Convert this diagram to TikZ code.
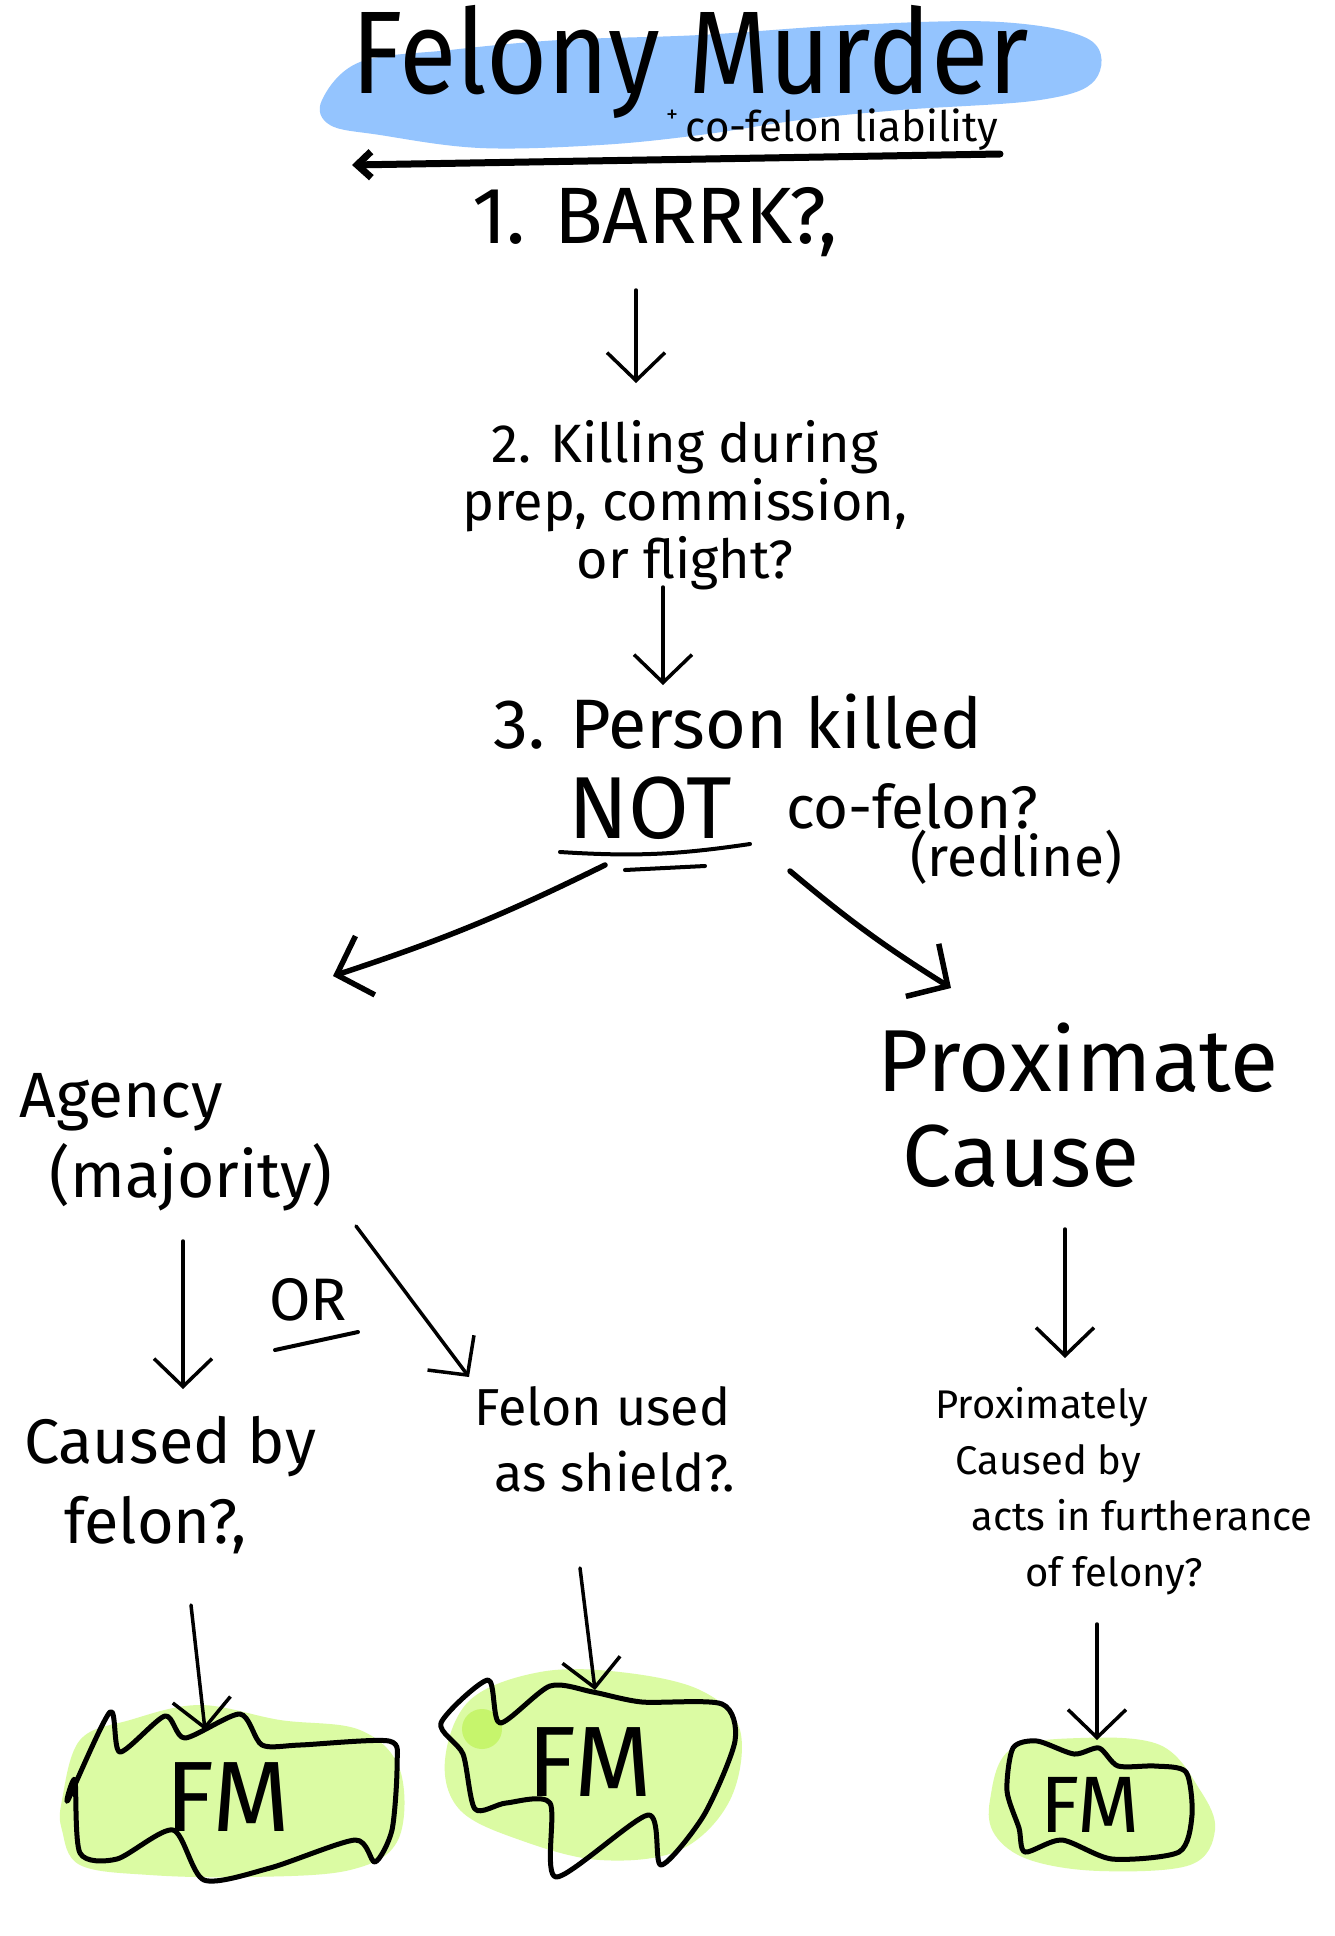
\documentclass[tikz,border=0pt]{standalone}
\usepackage{fontspec}
\setmainfont{Fira Sans}
\usetikzlibrary{arrows.meta,calc}
\definecolor{hlblue}{HTML}{94C4FE}
\definecolor{limefill}{HTML}{DBFBA3}
\definecolor{limedark}{HTML}{C6F56C}
\newcommand{\fsz}[2]{\fontsize{#1pt}{#2pt}\selectfont}
\tikzset{
  arr/.style={draw, line width=3.5pt, -{Straight Barb[length=28pt,width=58pt]}},
  thickarr/.style={draw, line width=5.5pt, -{Straight Barb[length=30pt,width=62pt]}},
  blobline/.style={draw, line width=5pt},
  ul/.style={draw, line width=4pt},
}
\begin{document}
\begin{tikzpicture}[x=1pt,y=-1pt,line cap=round,line join=round]
\useasboundingbox (0,0) rectangle (1334,1936);
\fill[white] (0,0) rectangle (1334,1936);

% blue highlight behind title
\fill[hlblue] plot[smooth cycle, tension=0.6] coordinates {
 (322,100) (360,62) (450,50) (560,40) (700,35) (850,25) (1000,22) (1090,40)
 (1095,80) (1040,100) (900,110) (800,120) (700,135) (600,145) (480,148) (380,135) (330,125)};

% title
\node[font=\fsz{105}{120}, inner sep=0pt] (title) at (690,62) {\scalebox{1}[1.12]{Felony Murder}};
\node[font=\fsz{24}{28}, inner sep=0pt] (plus) at (672,116) {+};
\node[font=\fsz{42}{50}, inner sep=0pt] (sub) at (842,130) {co-felon liability};
\draw[line width=7pt, -{Straight Barb[length=14pt,width=26pt]}]
  ([shift={(158,24)}]sub.center) -- ([shift={(-338,103)}]title.center);

% step 1
\node[font=\fsz{80}{90}] (barrk) at (655,222) {1. BARRK?,};
% step 2
\node[font=\fsz{54}{58}, align=center] (kill) at (685,505) {2. Killing during\\prep, commission,\\or flight?};
\draw[arr] ([shift={(-19,68)}]barrk.center) -- ([shift={(-49,-122)}]kill.center);

% step 3
\node[font=\fsz{70}{80}] (p3) at (738,722) {3. Person killed};
\node[font=\fsz{88}{90}] (notw) at (650,808) {NOT};
\node[font=\fsz{60}{66}] (cof) at (912,806) {co-felon?};
\node[font=\fsz{55}{60}] (red) at (1016,857) {(redline)};
\draw[arr] ([shift={(-22,82)}]kill.center) -- ([shift={(-75,-37)}]p3.center);
\draw[ul] ([shift={(-90,44)}]notw.center) to[bend right=6] ([shift={(100,36)}]notw.center);
\draw[ul] ([shift={(-25,62)}]notw.center) -- ([shift={(55,58)}]notw.center);

% branches
\node[font=\fsz{64}{80}, align=left] (agency) at (176,1142) {Agency\\\hspace*{30pt}(majority)};
\node[font=\fsz{88}{95}, align=left] (prox) at (1078,1105) {Proximate\\\hspace*{25pt}Cause};
\draw[thickarr] ([shift={(-45,57)}]notw.center) to[bend left=4] ([shift={(157,-166)}]agency.center);
\draw[thickarr] ([shift={(-122,65)}]cof.center) to[bend right=4] ([shift={(-127,-117)}]prox.center);

% agency sub-branches
\node[font=\fsz{60}{60}] (orw) at (308,1300) {OR};
\draw[ul] ([shift={(-33,50)}]orw.center) -- ([shift={(50,32)}]orw.center);
\node[font=\fsz{63}{80}, align=left] (caused) at (170,1485) {Caused by\\\hspace*{40pt}felon?,};
\node[font=\fsz{52}{66}, align=left] (shield) at (605,1439) {Felon used\\\hspace*{20pt}as shield?.};
\draw[arr] ([shift={(7,99)}]agency.center) -- ([shift={(13,-96)}]caused.center);
\draw[arr] ([shift={(180,84)}]agency.center) -- ([shift={(-136,-62)}]shield.center);

% proximate sub-branch
\node[font=\fsz{40}{56}, align=left] (prox2) at (1124,1491)
  {Proximately\\\hspace*{20pt}Caused by\\\hspace*{36pt}acts in furtherance\\\hspace*{90pt}of felony?};
\draw[arr] ([shift={(-13,124)}]prox.center) -- ([shift={(-59,-133)}]prox2.center);

% blobs: left
\fill[limefill] plot[smooth cycle, tension=0.6] coordinates {
 (62,1800) (80,1740) (130,1720) (200,1705) (280,1720) (360,1730) (400,1770)
 (398,1840) (350,1870) (250,1877) (150,1875) (80,1865) (62,1830)};
\draw[blobline] plot[smooth cycle, tension=0.45] coordinates {
 (68,1800) (110,1712) (120,1752) (165,1716) (185,1738) (240,1714) (262,1745)
 (300,1745) (389,1741) (397,1765) (392,1830) (375,1862) (355,1840) (270,1868)
 (204,1880) (173,1830) (117,1859) (80,1853) (75,1780)};
% middle
\fill[limefill] plot[smooth cycle, tension=0.6] coordinates {
 (445,1760) (470,1700) (540,1672) (620,1672) (700,1690) (740,1730) (730,1800)
 (680,1850) (600,1860) (520,1840) (460,1810)};
\fill[limedark] (482,1729) circle (20);
\draw[blobline] plot[smooth cycle, tension=0.45] coordinates {
 (441,1723) (488,1680) (500,1723) (550,1686) (593,1692) (642,1702) (722,1704)
 (735,1741) (704,1815) (661,1865) (648,1815) (556,1877) (550,1803) (506,1803)
 (475,1809) (463,1754)};
% right
\fill[limefill] plot[smooth cycle, tension=0.6] coordinates {
 (990,1800) (1010,1750) (1080,1738) (1160,1745) (1200,1790) (1215,1830)
 (1190,1865) (1100,1871) (1030,1860) (995,1835)};
\draw[blobline] plot[smooth cycle, tension=0.45] coordinates {
 (1013,1748) (1037,1741) (1074,1754) (1099,1748) (1118,1766) (1155,1766)
 (1186,1772) (1192,1815) (1179,1852) (1112,1859) (1062,1840) (1025,1852)
 (1019,1828) (1007,1791)};

\node[font=\fsz{100}{100}] (fm1) at (228,1797) {FM};
\node[font=\fsz{100}{100}] (fm2) at (590,1762) {FM};
\node[font=\fsz{80}{80}] (fm3) at (1090,1805) {FM};

\draw[arr] ([shift={(21,120)}]caused.center) -- ([shift={(-23,-67)}]fm1.center);
\draw[arr] ([shift={(-25,129)}]shield.center) -- ([shift={(5,-72)}]fm2.center);
\draw[arr] ([shift={(-27,133)}]prox2.center) -- ([shift={(7,-65)}]fm3.center);
\end{tikzpicture}
\end{document}
